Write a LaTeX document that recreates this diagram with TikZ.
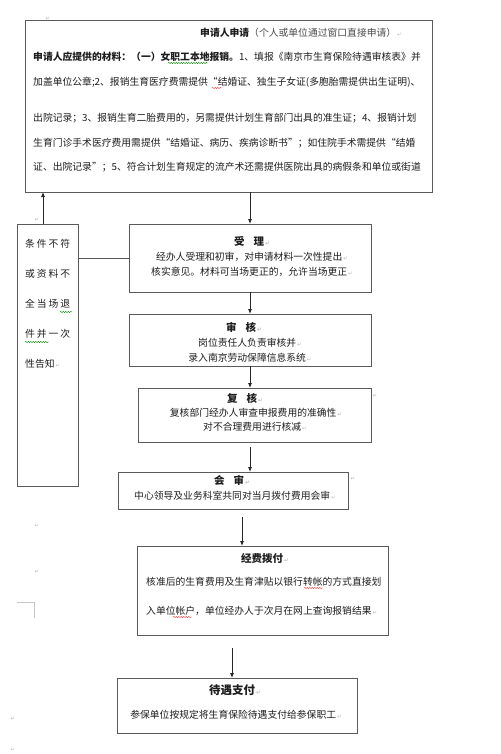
\documentclass[tikz,border=0pt]{standalone}
\usepackage{fontspec}
\setmainfont{Noto Sans CJK SC}
\newfontfamily\pmfont{DejaVu Sans}
\usetikzlibrary{arrows.meta,decorations.pathmorphing}
\XeTeXlinebreaklocale "zh"
\XeTeXlinebreakskip=0pt plus 2pt
\definecolor{boxgray}{HTML}{5A5A5A}
\definecolor{txtcol}{HTML}{1E1E1E}
\newcommand\jline[1]{\makebox[392pt][s]{#1}}
\newcommand\pmk{{\pmfont\color{gray!55}\fontsize{5.5}{6}\selectfont\,↵}}
\begin{document}
\begin{tikzpicture}[x=1pt,y=-1pt,
  box/.style={draw=boxgray, line width=1pt, inner sep=0pt, outer sep=0pt},
  txt/.style={inner sep=0pt, text=txtcol, font=\fontsize{9.8}{12}\selectfont},
  ttl/.style={inner sep=0pt, text=txtcol, font=\bfseries\fontsize{10.5}{12}\selectfont},
  pm/.style={inner sep=0pt, text=gray!55, font=\pmfont\fontsize{5.5}{6}\selectfont},
  arr/.style={draw=black!85, line width=0.8pt, -{Latex[length=5pt,width=4pt]}},
  plain/.style={draw=boxgray, line width=0.8pt},
  wavy/.style={line width=0.4pt, decorate, decoration={snake, amplitude=0.7pt, segment length=2.5pt}}]
\useasboundingbox[fill=white] (0,0) rectangle (500,754);

% boxes
\node[box, minimum width=407pt, minimum height=171pt] (top) at (228.5,106.5) {};
\node[box, minimum width=61pt, minimum height=262pt] (rej) at (47.5,355) {};
\node[box, minimum width=242pt, minimum height=68pt] (acc) at (250,258) {};
\node[box, minimum width=242pt, minimum height=52pt] (aud) at (250,340) {};
\node[box, minimum width=233pt, minimum height=54pt] (rev) at (254.5,415) {};
\node[box, minimum width=230pt, minimum height=37pt] (meet) at (233,490.5) {};
\node[box, minimum width=251pt, minimum height=89pt] (fund) at (262.5,590.5) {};
\node[box, minimum width=240pt, minimum height=55pt] (pay) at (237,705.5) {};

% top box text
\node[txt, anchor=west] (t0) at (200,33) {{\bfseries 申请人申请}{\color{black!70}（个人或单位通过窗口直接申请）}\pmk};
\node[txt, anchor=west] (t1) at (33,57) {\jline{{\bfseries 申请人应提供的材料：（一）女职工本地报销。}1、填报《南京市生育保险待遇审核表》并}};
\node[txt, anchor=west] (t2) at (33,82) {\jline{加盖单位公章;2、报销生育医疗费需提供“结婚证、独生子女证(多胞胎需提供出生证明)、}};
\node[txt, anchor=west] (t3) at (33,118) {\jline{出院记录；3、报销生育二胎费用的，另需提供计划生育部门出具的准生证；4、报销计划}};
\node[txt, anchor=west] (t4) at (33,143) {\jline{生育门诊手术医疗费用需提供“结婚证、病历、疾病诊断书”；如住院手术需提供“结婚}};
\node[txt, anchor=west] (t5) at (33,167) {\jline{证、出院记录”；5、符合计划生育规定的流产术还需提供医院出具的病假条和单位或街道}};

% left box text
\node[txt, anchor=west] (r1) at (25,244) {\addfontfeature{LetterSpace=20}条件不符};
\node[txt, anchor=west] (r2) at (25,274) {\addfontfeature{LetterSpace=20}或资料不};
\node[txt, anchor=west] (r3) at (25,304) {\addfontfeature{LetterSpace=20}全当场退};
\node[txt, anchor=west] (r4) at (25,334) {\addfontfeature{LetterSpace=20}件并一次};
\node[txt, anchor=west] (r5) at (25,364) {性告知\pmk};

% accept
\node[ttl] (a0) at (252,241) {受\hspace{9pt}理\pmk};
\node[txt] (a1) at (252,257) {经办人受理和初审，对申请材料一次性提出\pmk};
\node[txt] (a2) at (252,272) {核实意见。材料可当场更正的，允许当场更正\pmk};

% audit
\node[ttl] (b0) at (244,327) {审\hspace{9pt}核\pmk};
\node[txt] (b1) at (250,343) {岗位责任人负责审核并\pmk};
\node[txt] (b2) at (250,358) {录入南京劳动保障信息系统\pmk};

% review
\node[ttl] (c0t) at (245,398) {复\hspace{9pt}核\pmk};
\node[txt] (c1t) at (256,413) {复核部门经办人审查申报费用的准确性\pmk};
\node[txt] (c2t) at (255,427) {对不合理费用进行核减\pmk};

% meeting
\node[ttl] (d0) at (232,480) {会\hspace{9pt}审\pmk};
\node[txt] (d1) at (235,496) {中心领导及业务科室共同对当月拨付费用会审\pmk};

% funding
\node[ttl] (e0) at (265,558) {经费拨付\pmk};
\node[txt, anchor=west] (e1) at (146,582) {核准后的生育费用及生育津贴以银行转帐的方式直接划};
\node[txt, anchor=west] (e2) at (146,611) {入单位帐户，单位经办人于次月在网上查询报销结果\pmk};

% payment
\node[ttl, font=\bfseries\fontsize{11.5}{13}\selectfont] (f0) at (235,690) {待遇支付\pmk};
\node[txt] (f1) at (236,715) {参保单位按规定将生育保险待遇支付给参保职工\pmk};

% loose paragraph marks
\node[pm] (p1) at (48,19) {↵};
\node[pm] (p2) at (37,220) {↵};
\node[pm] (p3) at (375,396) {↵};
\node[pm] (p4) at (353,479) {↵};
\node[pm] (p5) at (37,526) {↵};
\node[pm] (p6) at (37,572) {↵};
\node[pm] (p7) at (13,719) {↵};
\node[pm] (p8) at (13,750) {↵};

% corner mark
\draw[gray!45, line width=0.8pt] (17,602) -- (34,602) -- (34,618);

% spell-check underlines
\draw[wavy, green!55!black] (168,63) -- (208,63);
\draw[wavy, red!75] (212,88) -- (222,88);
\draw[wavy, green!55!black] (60,312) -- (72,312);
\draw[wavy, green!55!black] (25,342) -- (49,342);
\draw[wavy, red!75] (304,588) -- (323,588);
\draw[wavy, red!75] (173,617) -- (192,617);

% connectors
\draw[arr] (top.south -| acc.north) -- (acc.north);
\draw[arr] (acc.south) -- (aud.north);
\draw[arr] (aud.south) -- (aud.south |- rev.north);
\coordinate (k0) at (250,447);
\draw[arr] (k0) -- (k0 |- meet.north);
\coordinate (k1) at (242,517);
\draw[arr] (k1) -- (k1 |- fund.north);
\coordinate (k2) at (232,648);
\draw[arr] (k2) -- (k2 |- pay.north);
\draw[plain] (rej.east |- acc.west) -- (acc.west);
\draw[arr] ([xshift=-4.5pt]rej.north) -- ([xshift=-4.5pt]rej.north |- top.south);
\end{tikzpicture}
\end{document}
